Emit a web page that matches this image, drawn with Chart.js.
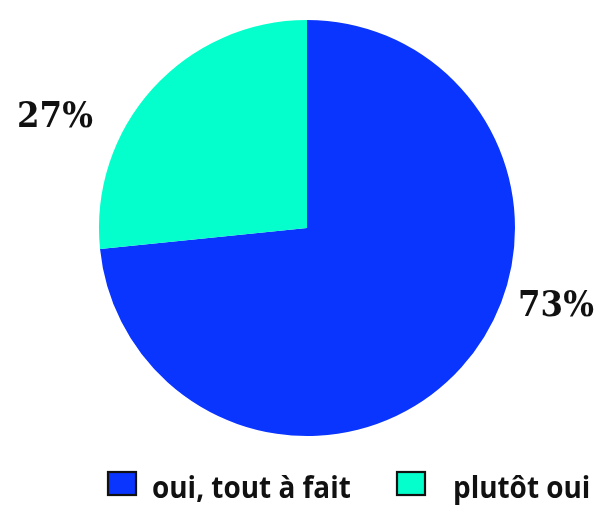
<!DOCTYPE html>
<html><head><meta charset="utf-8">
<script src="https://cdn.jsdelivr.net/npm/chart.js@4"></script>
<style>html,body{margin:0;padding:0;background:#fff}#wrap{width:606px;height:513px;position:relative}</style>
</head><body><div id="wrap"><canvas id="c"></canvas></div>
<script>
const categories = ["oui, tout à fait", "plutôt oui"];
const values = [73.4, 26.6];
const valueLabels = ["73%", "27%"];
const colors = ["#0a35ff", "#05ffcc"];

const labelPlugin = {
  id: 'outerLabels',
  afterDatasetsDraw(chart) {
    const ctx = chart.ctx;
    const meta = chart.getDatasetMeta(0);
    ctx.save();
    ctx.font = 'bold 36px "DejaVu Serif Condensed", "DejaVu Serif", serif';
    ctx.fillStyle = '#111';
    ctx.textAlign = 'center';
    ctx.textBaseline = 'middle';
    meta.data.forEach((arc, i) => {
      const r = arc.outerRadius;
      const mid = (arc.startAngle + arc.endAngle) / 2;
      const dir = Math.cos(mid) >= 0 ? 1 : -1;
      let x, y;
      if (dir > 0) { x = arc.x + r + 41; y = arc.y + r * 0.38; }
      else { x = arc.x - r - 44; y = arc.y - r * 0.53; }
      ctx.fillText(valueLabels[i], x, y);
    });
    ctx.restore();
  }
};

// custom legend drawn below the pie (layout only)
const legendPlugin = {
  id: 'customLegend',
  afterDraw(chart) {
    const ctx = chart.ctx;
    const boxX = [108, 397], textX = [152, 453];
    const boxY = chart.chartArea.bottom + 36, boxW = 28, boxH = 23;
    const baseline = chart.chartArea.bottom + 62;
    ctx.save();
    categories.forEach((c, i) => {
      ctx.fillStyle = colors[i];
      ctx.fillRect(boxX[i], boxY, boxW, boxH);
      ctx.lineWidth = 2.2;
      ctx.strokeStyle = '#111';
      ctx.strokeRect(boxX[i], boxY, boxW, boxH);
      ctx.save();
      ctx.translate(textX[i], baseline);
      ctx.scale(0.9, 1);
      ctx.font = 'bold 31px "Open Sans"';
      ctx.fillStyle = '#111';
      ctx.textAlign = 'left';
      ctx.textBaseline = 'alphabetic';
      ctx.fillText(c, 0, 0);
      ctx.restore();
    });
    ctx.restore();
  }
};

new Chart(document.getElementById('c'), {
  type: 'pie',
  data: { labels: categories, datasets: [{ data: values, backgroundColor: colors, borderWidth: 0 }] },
  options: {
    responsive: true, maintainAspectRatio: false, animation: false,
    layout: { padding: { top: 20, bottom: 77, left: 8 } },
    plugins: {
      tooltip: { enabled: false },
      legend: { display: false }
    }
  },
  plugins: [labelPlugin, legendPlugin]
});
</script></body></html>
